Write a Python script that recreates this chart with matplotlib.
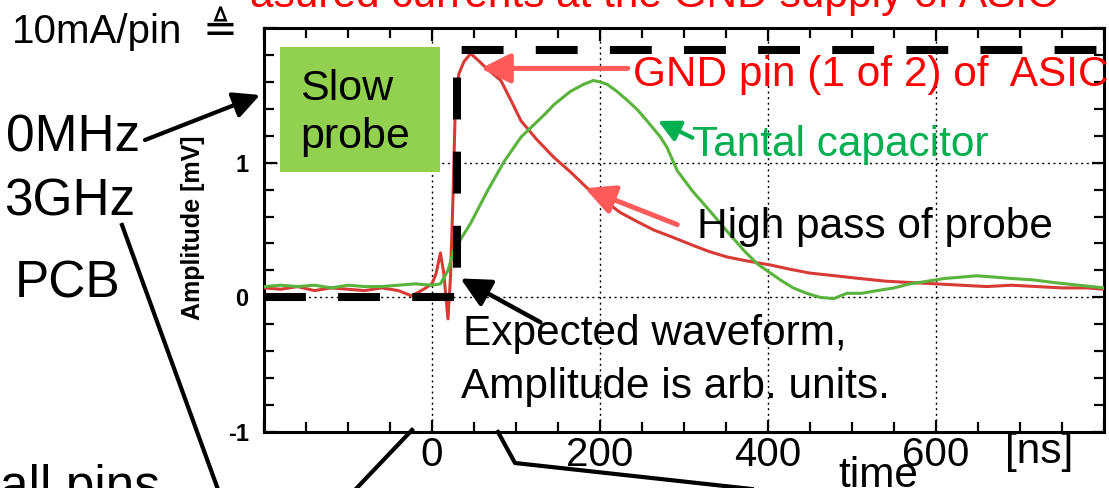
import numpy as np
import matplotlib
matplotlib.use('Agg')
from matplotlib import pyplot as plt
from matplotlib.patches import FancyArrowPatch, Rectangle
from matplotlib.lines import Line2D
from matplotlib.ticker import MultipleLocator

plt.rcParams['font.family'] = ['Liberation Sans', 'DejaVu Sans']

t_red = [-200, -180, -160, -140, -120, -100, -80, -60, -40, -24,
         -10, 0, 5, 10, 14, 19, 22, 25, 28, 32,
         38, 46, 55, 65, 82, 95, 106, 125, 145, 165,
         185, 205, 224, 245, 264, 285, 311, 330, 351, 375,
         403, 425, 450, 480, 509, 540, 569, 600, 630, 660,
         690, 720, 750, 780, 800]
v_red = [0.07, 0.06, 0.08, 0.05, 0.07, 0.06, 0.05, 0.07, 0.05, 0.01,
         0.06, 0.10, 0.18, 0.33, 0.18, -0.16, 0.15, 0.74, 1.48, 1.66,
         1.75, 1.81, 1.76, 1.70, 1.61, 1.45, 1.31, 1.17, 1.04, 0.93,
         0.81, 0.72, 0.63, 0.56, 0.50, 0.45, 0.385, 0.34, 0.30, 0.27,
         0.24, 0.21, 0.18, 0.16, 0.14, 0.12, 0.11, 0.10, 0.09, 0.08,
         0.09, 0.08, 0.07, 0.07, 0.06]

t_green = [-200, -180, -160, -140, -120, -100, -80, -60, -40, -20,
           0, 10, 19, 26, 36, 46, 56, 66, 76, 86,
           96, 106, 116, 126, 136, 145, 155, 165, 180, 192,
           200, 209, 220, 233, 245, 256, 264, 272, 280, 292,
           310, 331, 350, 371, 387, 403, 417, 430, 446, 462,
           478, 494, 512, 530, 550, 569, 590, 610, 630, 648,
           670, 690, 715, 740, 770, 800]
v_green = [0.08, 0.09, 0.08, 0.09, 0.07, 0.09, 0.08, 0.08, 0.09, 0.10,
           0.09, 0.10, 0.20, 0.35, 0.45, 0.55, 0.67, 0.79, 0.90, 1.01,
           1.10, 1.19, 1.25, 1.31, 1.37, 1.43, 1.48, 1.53, 1.58, 1.61,
           1.60, 1.58, 1.53, 1.46, 1.39, 1.31, 1.25, 1.19, 1.11, 0.94,
           0.79, 0.64, 0.50, 0.35, 0.25, 0.18, 0.12, 0.07, 0.03, 0.00,
           -0.01, 0.03, 0.03, 0.05, 0.07, 0.10, 0.12, 0.14, 0.15, 0.16,
           0.15, 0.14, 0.13, 0.11, 0.09, 0.07]

# expected waveform (arb. units)
t_exp = [-200, 30, 30, 800]
v_exp = [0, 0, 1.84, 1.84]

x_ticks = [-200, 0, 200, 400, 600, 800]
x_labels = ['', '0', '200', '400', '600', '']
y_ticks = [-1, 0, 1, 2]
y_labels = ['-1', '0', '1', '']

W, H = 1109, 488
FS = 30.5


def fp(x, y):
    # pixel position -> figure fraction
    return (x / W, 1 - y / H)


fig = plt.figure(figsize=(W / 100, H / 100), dpi=100)
ax = fig.add_axes([264 / W, 1 - 432 / H, (1104 - 264) / W, (432 - 28) / H])

ax.plot(t_red, v_red, color='#d83a36', lw=2.2, zorder=3)
ax.plot(t_green, v_green, color='#5ab33c', lw=2.2, zorder=3)
ax.plot(t_exp, v_exp, color='black', lw=5.8, linestyle=(0, (5.2, 4.0)),
        dash_capstyle='butt', zorder=4)

ax.set_xlim(-200, 800)
ax.set_ylim(-1, 2)
ax.set_xticks(x_ticks)
ax.set_xticklabels(x_labels, fontsize=29)
ax.xaxis.set_minor_locator(MultipleLocator(50))
ax.set_yticks(y_ticks)
ax.set_yticklabels(y_labels, fontsize=17, fontweight='bold')
ax.yaxis.set_minor_locator(MultipleLocator(0.2))
ax.tick_params(which='both', direction='in', top=True, right=True, width=1.6)
ax.tick_params(which='major', length=9)
ax.tick_params(which='minor', length=7)
ax.tick_params(axis='x', pad=3)
ax.tick_params(axis='y', pad=11)
for s in ax.spines.values():
    s.set_linewidth(2.2)
ax.grid(True, which='major', color='black', linestyle=(0, (1.5, 2.5)), linewidth=1.0)

head = '-|>,head_length=1.0,head_width=0.5'

# annotations inside the plot
ax.annotate('', xy=(58, 1.70), xytext=(233, 1.70),
            arrowprops=dict(arrowstyle=head, color='#ff5a5a', lw=3.6,
                            mutation_scale=18, shrinkA=0, shrinkB=0))
ax.text(239, 1.57, 'GND pin (1 of 2) of  ASIC', color='red', fontsize=FS,
        va='baseline', ha='left')

ax.annotate('', xy=(269, 1.31), xytext=(310, 1.185),
            arrowprops=dict(arrowstyle=head, color='#00b050', lw=3,
                            mutation_scale=13, shrinkA=0, shrinkB=0))
ax.text(310, 1.052, 'Tantal capacitor', color='#00b050', fontsize=FS,
        va='baseline', ha='left')

ax.annotate('', xy=(182, 0.81), xytext=(292, 0.54),
            arrowprops=dict(arrowstyle=head, color='#ff5a5a', lw=3.6,
                            mutation_scale=18, shrinkA=0, shrinkB=0))
ax.text(316, 0.437, 'High pass of probe', color='black', fontsize=FS,
        va='baseline', ha='left')

ax.annotate('', xy=(34, 0.14), xytext=(129, -0.185),
            arrowprops=dict(arrowstyle=head, color='black', lw=3.2,
                            mutation_scale=18, shrinkA=0, shrinkB=0))
ax.text(37, -0.356, 'Expected waveform,', color='black', fontsize=FS,
        va='baseline', ha='left')
ax.text(34, -0.748, 'Amplitude is arb. units.', color='black', fontsize=FS,
        va='baseline', ha='left')

# green "Slow probe" box
fig.add_artist(Rectangle(fp(280, 172), 160 / W, 125 / H, transform=fig.transFigure,
                         facecolor='#92d050', edgecolor='none', zorder=5))
fig.text(*fp(300, 100), 'Slow', fontsize=31, va='baseline', ha='left', zorder=6)
fig.text(*fp(300, 148), 'probe', fontsize=31, va='baseline', ha='left', zorder=6)

# axis labels
fig.text(*fp(193, 228), 'Amplitude [mV]', fontsize=18, fontweight='bold',
         rotation=90, ha='center', va='center')
fig.text(*fp(838, 487), 'time', fontsize=FS, va='baseline', ha='left', zorder=6)
fig.text(*fp(1005, 463), '[ns]', fontsize=FS, va='baseline', ha='left')

# slide text around the plot
fig.text(*fp(250, 7), 'asured currents at the GND supply of ASIC', color='red',
         fontsize=30.5, va='baseline', ha='left')
fig.text(*fp(12, 43), '10mA/pin', fontsize=29, va='baseline', ha='left')
fig.text(*fp(203, 42), '\u225c', fontsize=30, va='baseline', ha='left',
         family=['DejaVu Sans'])
fig.text(*fp(140, 152), '0MHz', fontsize=37, va='baseline', ha='right')
fig.text(*fp(135, 215), '3GHz', fontsize=37, va='baseline', ha='right')
fig.text(*fp(15, 297), 'PCB', fontsize=37, va='baseline', ha='left')
fig.text(*fp(0, 502), 'all pins', fontsize=37, va='baseline', ha='left')

# connector lines of the slide
fig.add_artist(FancyArrowPatch(fp(145, 140), fp(260, 95), transform=fig.transFigure,
                               arrowstyle=head, mutation_scale=16, color='black', lw=3,
                               shrinkA=0, shrinkB=0))
for xs, ys in [([122, 220], [225, 495]),
               ([412, 353], [430, 492]),
               ([498, 515, 770], [432, 463, 491])]:
    fig.add_artist(Line2D([x / W for x in xs], [1 - y / H for y in ys],
                          transform=fig.transFigure, color='black', lw=3))

fig.savefig('out.png', dpi=100)
